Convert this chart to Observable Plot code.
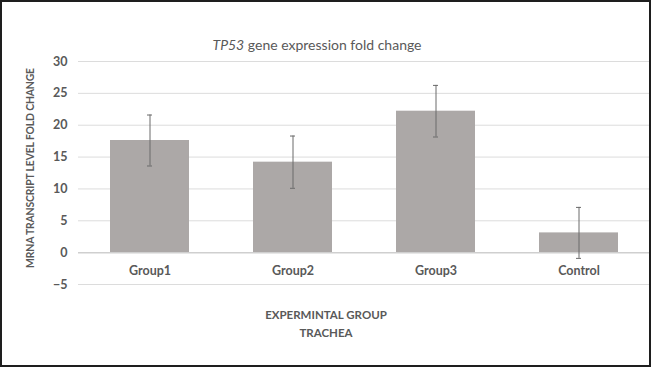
<!DOCTYPE html>
<html>
<head>
<meta charset="utf-8">
<script src="https://cdn.jsdelivr.net/npm/d3@7"></script>
<script src="https://cdn.jsdelivr.net/npm/@observablehq/plot@0.6"></script>
<style>
  html, body { margin: 0; padding: 0; background: #fff; }
  #wrap { position: relative; width: 651px; height: 367px; overflow: hidden; font-family: Lato, "Open Sans", sans-serif; color: #595959; }
  #wrap svg { position: absolute; left: 0; top: 0; }
  .frame { position: absolute; left: 0; top: 0; width: 651px; height: 367px; box-sizing: border-box; border: 2px solid #1e1e1e; pointer-events: none; }
  .abs { position: absolute; white-space: nowrap; transform: translate(-50%, -50%); }
  #title { left: 317px; top: 44px; font-size: 14px; }
  #ylab { left: 30px; top: 168px; font-size: 10.4px; letter-spacing: -0.15px; font-weight: bold; transform: translate(-50%, -50%) rotate(-90deg); }
  #xlab { left: 326px; top: 324px; font-size: 11.5px; font-weight: bold; text-align: center; line-height: 18px; }
</style>
</head>
<body>
<div id="wrap">
  <div id="title" class="abs"><i>TP53</i> gene expression fold change</div>
  <div id="ylab" class="abs">MRNA TRANSCRIPT LEVEL FOLD CHANGE</div>
  <div id="xlab" class="abs">EXPERMINTAL GROUP<br>TRACHEA</div>
  <div class="frame"></div>
</div>
<script>
const categories = ["Group1", "Group2", "Group3", "Control"];
const values = [17.6, 14.2, 22.2, 3.1];
const errors = [4.0, 4.1, 4.05, 4.0];
const yTicks = [-5, 0, 5, 10, 15, 20, 25, 30];

const data = categories.map((c, i) => ({
  group: c, value: values[i], lo: values[i] - errors[i], hi: values[i] + errors[i]
}));

const chart = Plot.plot({
  width: 651,
  height: 367,
  marginTop: 61,
  marginBottom: 83,
  marginLeft: 78,
  marginRight: 1,
  style: { fontFamily: "Lato, 'Open Sans', sans-serif", color: "#595959", background: "transparent" },
  x: { domain: categories, paddingInner: 0.45, paddingOuter: 0.225, axis: null },
  y: { domain: [-5, 30] },
  marks: [
    Plot.ruleY(yTicks.filter(d => d !== 0), { stroke: "#dcdcdc", strokeWidth: 1 }),
    Plot.axisY({ ticks: yTicks, tickSize: 0, tickPadding: 11, fontSize: 12.5, fontWeight: "bold", label: null }),
    Plot.barY(data, { x: "group", y: "value", fill: "#aca8a7" }),
    Plot.ruleY([0], { stroke: "#cfcfcf", strokeWidth: 1.5 }),
    Plot.ruleX(data, { x: "group", y1: "lo", y2: "hi", stroke: "#6a6a6a", strokeWidth: 1 }),
    Plot.tickY(data, { x: "group", y: "hi", stroke: "#6a6a6a", insetLeft: 37, insetRight: 37 }),
    Plot.tickY(data, { x: "group", y: "lo", stroke: "#6a6a6a", insetLeft: 37, insetRight: 37 }),
    Plot.text(data, { x: "group", y: () => 0, text: "group", dy: 18, fontSize: 12.5, fontWeight: "bold", fill: "#595959" })
  ]
});
document.getElementById("wrap").prepend(chart);
</script>
</body>
</html>
